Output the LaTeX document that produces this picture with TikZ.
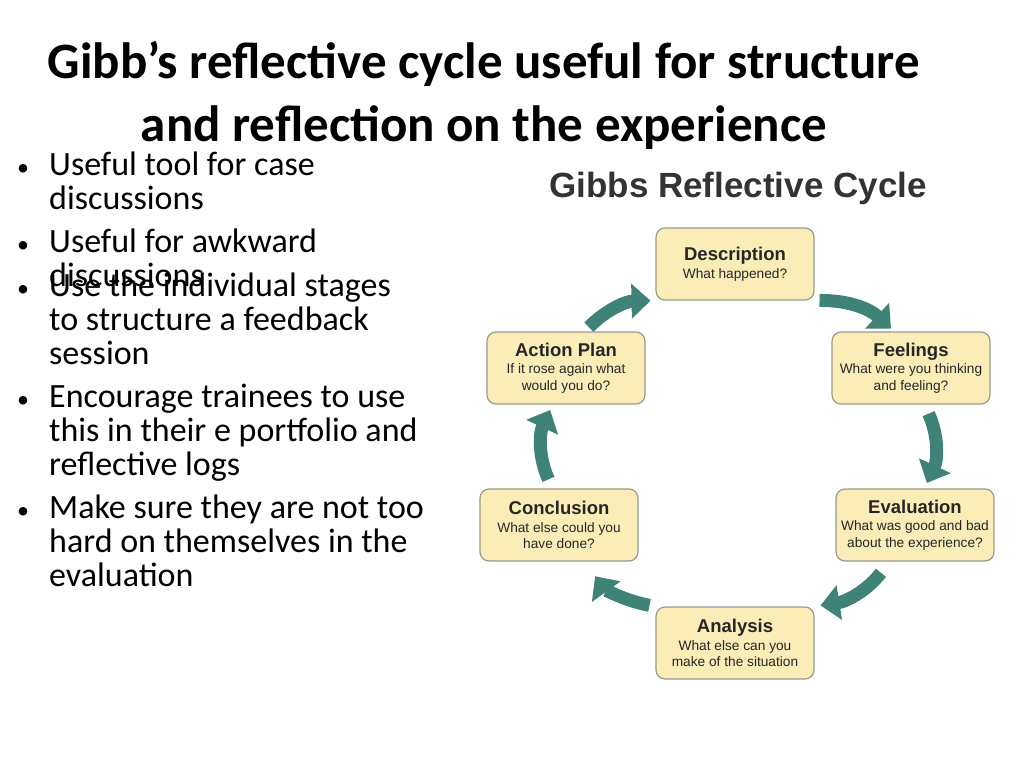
\documentclass[tikz,border=0pt]{standalone}
\usepackage{fontspec}
\setmainfont{Carlito}
\newfontfamily\arialfont{Liberation Sans}
\usetikzlibrary{positioning,arrows.meta}
\definecolor{boxfill}{HTML}{FAEDB8}
\definecolor{boxline}{HTML}{9A9A8A}
\definecolor{teal}{HTML}{3F8378}
\tikzset{
  stage/.style={draw=boxline, line width=1.2pt, fill=boxfill, rounded corners=9pt,
    minimum width=158, minimum height=72, align=center,
    font=\arialfont\fontsize{13.7}{16.5}\selectfont, text=black!85},
  bulletitem/.style={anchor=base west, align=left, inner sep=0pt,
    font=\fontsize{34}{34}\selectfont},
  cyc/.style={draw=teal, line width=13pt, -{Triangle[length=19pt,width=34pt]}, teal}
}
\newcommand{\stagetext}[2]{{\fontsize{18.5}{21}\selectfont\bfseries #1}\\[1pt]#2}
\newcommand{\bul}{\llap{\fontsize{24}{24}\selectfont•\hspace{20pt}}}
\begin{document}
\begin{tikzpicture}[x=1pt,y=-1pt]
\useasboundingbox (0,0) rectangle (1024,768);

% Title
\node[font=\fontsize{51}{63}\selectfont\bfseries, align=center] (title) at (484,95)
  {Gibb’s reflective cycle useful for structure\\and reflection on the experience};

% Bullets
\node[bulletitem] (b1) at (49,209) {\bul Useful tool for case\\discussions};
\node[bulletitem] (b2) at (49,286) {\bul Useful for awkward\\discussions};
\node[bulletitem] (b3) at (49,364) {\bul Use the individual stages\\to structure a feedback\\session};
\node[bulletitem] (b4) at (49,475) {\bul Encourage trainees to use\\this in their e portfolio and\\reflective logs};
\node[bulletitem] (b5) at (49,586) {\bul Make sure they are not too\\hard on themselves in the\\evaluation};

% Cycle heading
\node[font=\arialfont\bfseries\fontsize{35}{40}\selectfont, text=black!80] (cyclehead) at (738,188) {Gibbs Reflective Cycle};

% Stages
\node[stage] (desc) at (735,264) {\stagetext{Description}{What happened?}};
\node[stage] (feel) at (911,368) {\stagetext{Feelings}{What were you thinking\\and feeling?}};
\node[stage] (eval) at (915,525) {\stagetext{Evaluation}{What was good and bad\\about the experience?}};
\node[stage] (anal) at (735,643) {\stagetext{Analysis}{What else can you\\make of the situation}};
\node[stage] (conc) at (559,525) {\stagetext{Conclusion}{What else could you\\have done?}};
\node[stage] (act) at (566,368) {\stagetext{Action Plan}{If it rose again what\\would you do?}};

% Arrows
\draw[cyc, shorten <=6pt, shorten >=4pt] (desc.-25) to[bend left=22] (feel.115);
\draw[cyc, shorten <=10pt, shorten >=6pt] (feel.-70) to[bend left=25] (eval.north -| feel.-70);
\draw[cyc, shorten <=14pt, shorten >=6pt] (eval.-125) to[bend left=22] (anal.east |- anal.40);
\draw[cyc, shorten <=6pt, shorten >=18pt] (anal.west |- anal.35) to[bend left=22] (conc.-55);
\draw[cyc, shorten <=10pt, shorten >=6pt] (conc.north -| act.-110) to[bend left=25] (act.-110);
\draw[cyc, shorten <=6pt, shorten >=6pt] (act.63) to[bend left=22] (desc.205);
\end{tikzpicture}
\end{document}
